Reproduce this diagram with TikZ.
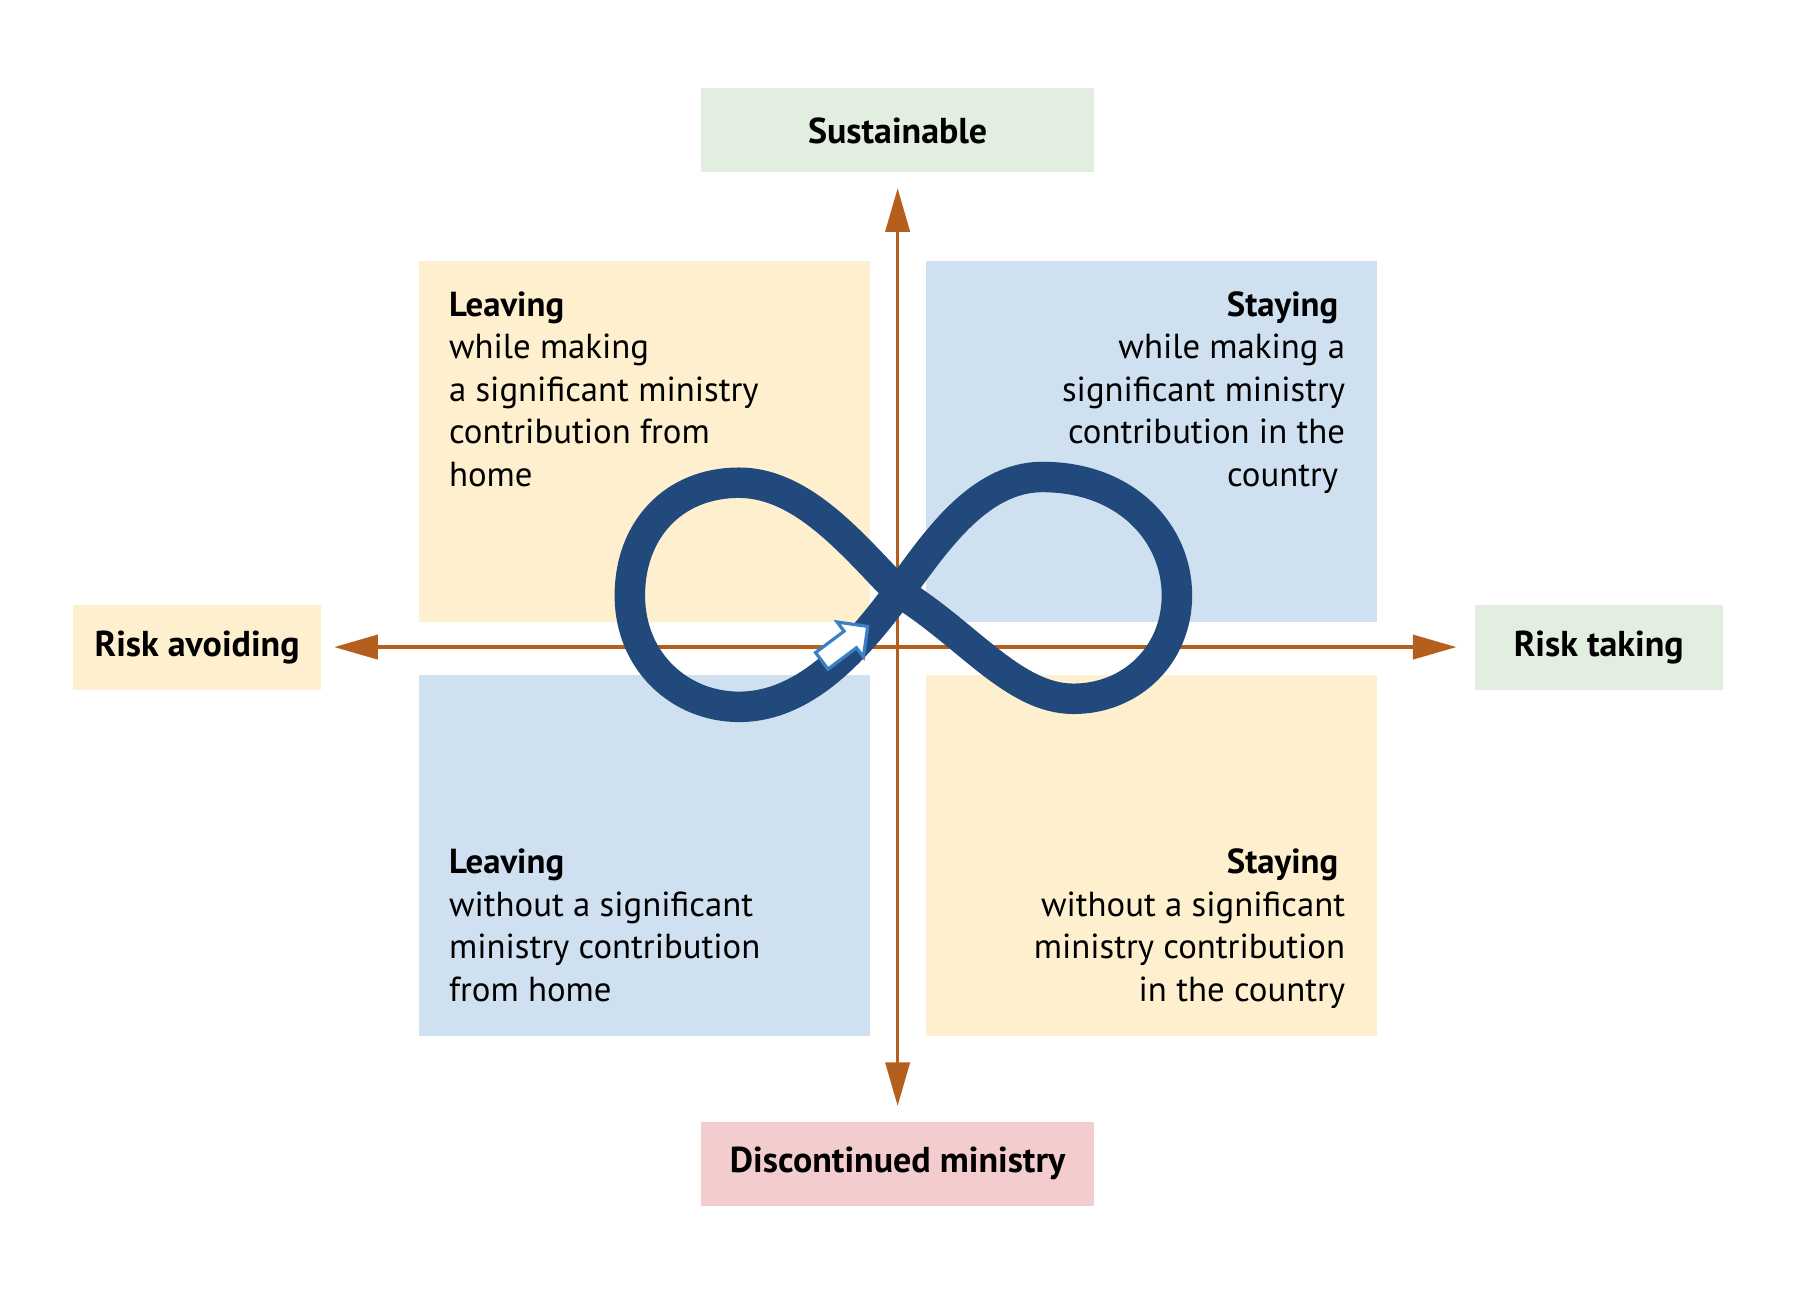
\documentclass[tikz,border=0pt]{standalone}
\usepackage{fontspec}
\setmainfont{PT Sans}
\usetikzlibrary{arrows.meta,positioning}
\definecolor{quadyellow}{HTML}{FEF0CF}
\definecolor{quadblue}{HTML}{CFE1F0}
\definecolor{labelgreen}{HTML}{E2EEE0}
\definecolor{labelpink}{HTML}{F3CDCD}
\definecolor{axisbrown}{HTML}{B55F1E}
\definecolor{loopblue}{HTML}{21497C}
\definecolor{arrowblue}{HTML}{3A80C2}

\begin{document}
\begin{tikzpicture}[x=0.01cm,y=-0.01cm,
    quadrant/.style={minimum width=3.92cm,minimum height=3.14cm,inner sep=0pt},
    axislabel/.style={minimum height=0.73cm,inner sep=0pt,font=\fontsize{8.9}{10}\selectfont\bfseries},
    quadtext/.style={inner sep=0pt,font=\fontsize{8.6}{10.5}\selectfont},
    axisline/.style={draw=axisbrown,line width=0.9pt,>={Triangle[length=3.8mm,width=2.1mm]},<->}
  ]
    \useasboundingbox (0,0) rectangle (1567,1127.6);

    % Quadrant boxes
    \node[quadrant,fill=quadyellow] (tl) at (561,384) {};
    \node[quadrant,fill=quadblue] (tr) at (1002,384) {};
    \node[quadrant,fill=quadblue] (bl) at (561,744) {};
    \node[quadrant,fill=quadyellow] (br) at (1002,744) {};

    % Quadrant texts
    \node[quadtext,anchor=north west,align=left] (tltext) at (390,253)
      {\textbf{Leaving}\\while making\\a significant ministry\\contribution from\\home};
    \node[quadtext,anchor=north east,align=right] (trtext) at (1171,253)
      {\textbf{Staying}\hspace*{0.6mm}\\while making a\\significant ministry\\contribution in the\\country\hspace*{0.6mm}};
    \node[quadtext,anchor=north west,align=left] (bltext) at (390,738)
      {\textbf{Leaving}\\without a significant\\ministry contribution\\from home};
    \node[quadtext,anchor=north east,align=right] (brtext) at (1171,738)
      {\textbf{Staying}\hspace*{0.6mm}\\without a significant\\ministry contribution\\in the country};

    % Axis labels
    \node[axislabel,fill=labelgreen,minimum width=3.42cm] (sust) at (781,113.5) {Sustainable};
    \node[axislabel,fill=labelpink,minimum width=3.42cm] (disc) at (781,1012.5) {Discontinued ministry};
    \node[axislabel,fill=quadyellow,minimum width=2.15cm,minimum height=0.74cm] (avoid) at (171.5,563) {Risk avoiding};
    \node[axislabel,fill=labelgreen,minimum width=2.16cm,minimum height=0.74cm] (taking) at (1391,563) {Risk taking};

    % Axes
    \draw[axisline,shorten <=1.3mm,shorten >=1.3mm] (sust) -- (disc);
    \draw[axisline,shorten <=1.1mm,shorten >=1.5mm] (avoid) -- (taking);

    % Infinity loop
    \coordinate (cross) at (782,515);
    \draw[loopblue,line width=0.265cm] (cross)
      .. controls (745,478) and (700,420) .. (643,420)
      .. controls (585,420) and (548,462) .. (548,518)
      .. controls (548,576) and (592,615) .. (643,615)
      .. controls (702,615) and (747,562) .. (cross)
      .. controls (812,475) and (850,415) .. (907,415)
      .. controls (980,415) and (1024,464) .. (1024,518)
      .. controls (1024,570) and (984,608) .. (934,608)
      .. controls (882,608) and (842,552) .. (cross) -- cycle;

    % Start arrow
    \draw[arrowblue,fill=white,line width=0.8pt,line join=miter]
      (755,545) -- (751.2,571.6) -- (745.2,563.6) -- (720.4,582.2)
      -- (709.6,567.8) -- (734.4,549.2) -- (728.4,541.2) -- cycle;
  \end{tikzpicture}
\end{document}
